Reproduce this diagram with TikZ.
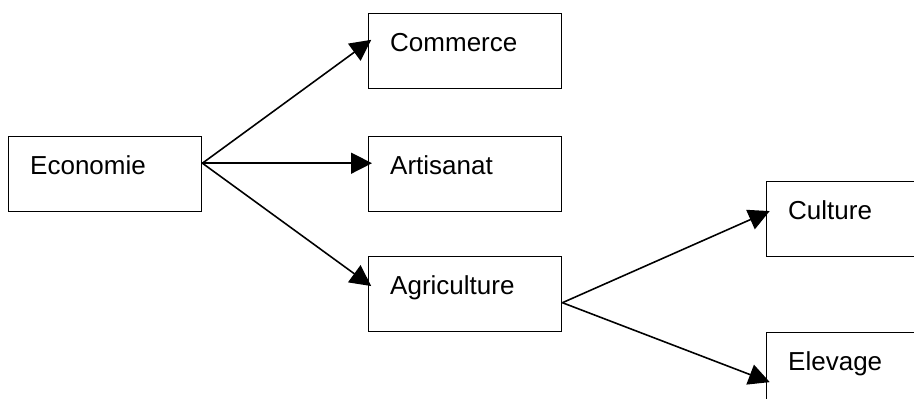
\documentclass[tikz,border=0pt]{standalone}
\usepackage{fontspec}
\setmainfont{Liberation Sans}
\usetikzlibrary{arrows.meta}
\tikzstyle{box} = [rectangle, draw=black, line width=0.8pt, anchor=north west,
  inner xsep=0.43cm, inner ysep=0pt, text width=3cm, align=left,
  text height=0.75cm, text depth=0.75cm, font=\fontsize{14.8}{17}\selectfont]
\tikzstyle{arrow} = [line width=0.9pt, shorten >=-0.08cm, -{Triangle[length=0.42cm, width=0.42cm]}]

\begin{document}
\begin{tikzpicture}
  \useasboundingbox (0,0) rectangle (18.28,7.96);
  \clip (0,0) rectangle (18.28,7.96);
  \node (economie) [box] at (0.16,5.24) {Economie};
  \node (commerce) [box] at (7.36,7.70) {Commerce};
  \node (artisanat) [box] at (7.36,5.24) {Artisanat};
  \node (agriculture) [box] at (7.36,2.84) {Agriculture};
  \node (culture) [box] at (15.32,4.34) {Culture};
  \node (elevage) [box] at (15.32,1.32) {Elevage};

  \draw[arrow] ([yshift=0.22cm]economie.base east) -- ([yshift=0.18cm]commerce.base west);
  \draw[arrow] ([yshift=0.22cm]economie.base east) -- ([yshift=0.22cm]artisanat.base west);
  \draw[arrow] ([yshift=0.22cm]economie.base east) -- ([yshift=0.21cm]agriculture.base west);
  \draw[arrow] ([yshift=-0.17cm]agriculture.base east) -- ([yshift=0.13cm]culture.base west);
  \draw[arrow] ([yshift=-0.17cm]agriculture.base east) -- ([yshift=-0.21cm]elevage.base west);
\end{tikzpicture}
\end{document}
